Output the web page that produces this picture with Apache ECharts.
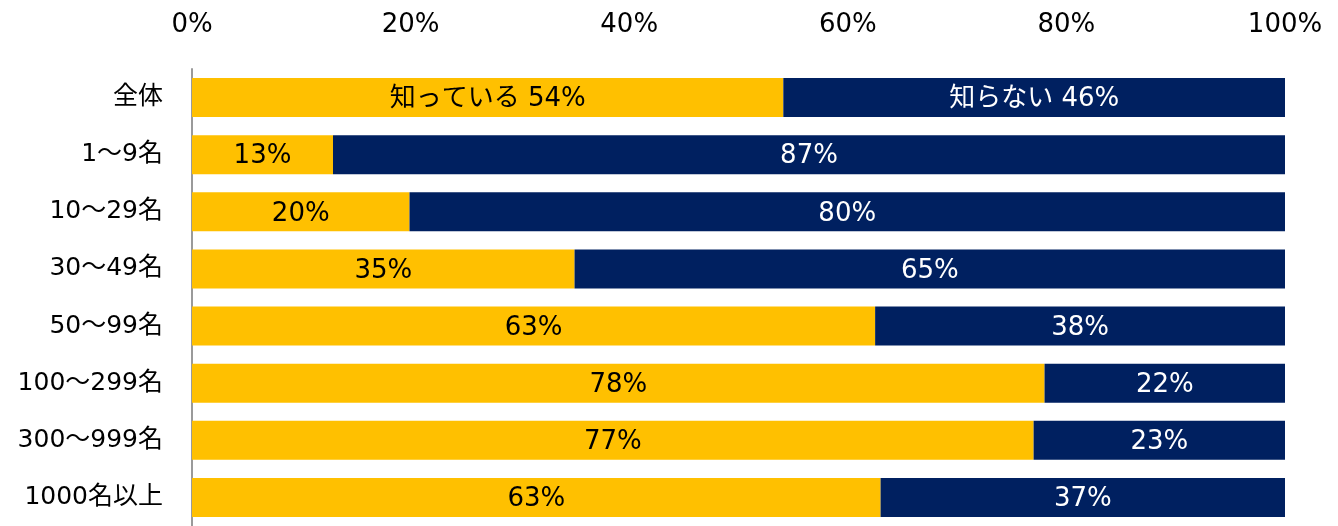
<!DOCTYPE html>
<html><head><meta charset="utf-8">
<script src="https://cdn.jsdelivr.net/npm/echarts@6/dist/echarts.min.js"></script>
<style>html,body{margin:0;padding:0;background:#fff}#c{width:1338px;height:526px}</style>
</head><body><div id="c"></div>
<script>
const categories = ['全体','1～9名','10～29名','30～49名','50～99名','100～299名','300～999名','1000名以上'];
const knowValues = [54.1, 12.9, 19.9, 35.0, 62.5, 78.0, 77.0, 63.0];
const dontKnowValues = [45.9, 87.1, 80.1, 65.0, 37.5, 22.0, 23.0, 37.0];
const seriesNames = ['知っている', '知らない'];
const xTicks = [0, 20, 40, 60, 80, 100];

const FONT = '"DejaVu Sans", "Noto Sans CJK JP", sans-serif';
const chart = echarts.init(document.getElementById('c'), null, {renderer: 'canvas'});

function labelFmt(name) {
  return function (p) {
    const v = Math.round(p.value) + '%';
    return p.dataIndex === 0 ? name + ' ' + v : v;
  };
}

chart.setOption({
  animation: false,
  grid: {left: 192, right: 53, top: 69, height: 465, containLabel: false},
  xAxis: {
    type: 'value', position: 'top', min: xTicks[0], max: xTicks[xTicks.length - 1], interval: 20,
    axisLine: {show: false}, axisTick: {show: false}, splitLine: {show: false},
    axisLabel: {formatter: '{value}%', fontSize: 26, color: '#000', fontFamily: FONT, margin: 31}
  },
  yAxis: {
    type: 'category', data: categories, inverse: true,
    axisLine: {show: true, lineStyle: {color: '#9a9a9a', width: 2}},
    axisTick: {show: false},
    axisLabel: {fontSize: 25, color: '#000', fontFamily: FONT, margin: 29, padding: [3, 0, 0, 0]}
  },
  series: [
    {
      name: seriesNames[0], type: 'bar', stack: 't', data: knowValues, barWidth: 39,
      itemStyle: {color: '#FFC000'},
      label: {show: true, position: 'inside', offset: [0, 2], formatter: labelFmt(seriesNames[0]), fontSize: 26, color: '#000', fontFamily: FONT}
    },
    {
      name: seriesNames[1], type: 'bar', stack: 't', data: dontKnowValues, barWidth: 39,
      itemStyle: {color: '#002060'},
      label: {show: true, position: 'inside', offset: [0, 2], formatter: labelFmt(seriesNames[1]), fontSize: 26, color: '#fff', fontFamily: FONT}
    }
  ]
});
</script></body></html>
